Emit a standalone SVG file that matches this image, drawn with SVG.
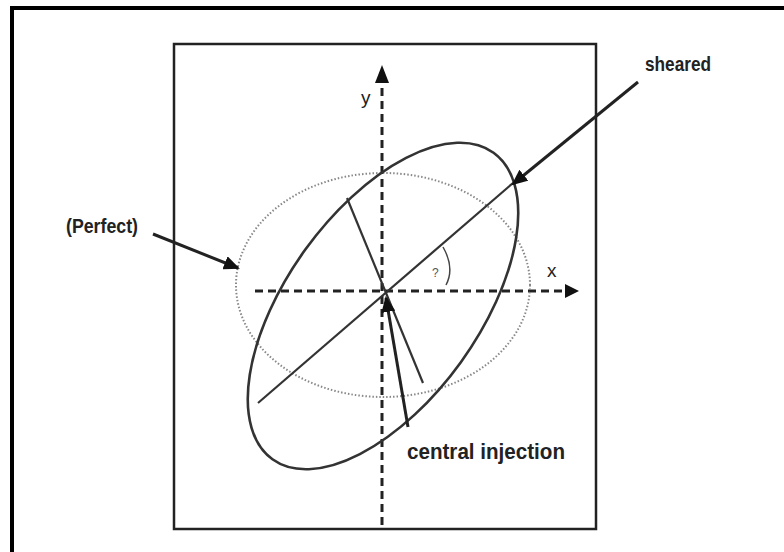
<svg xmlns="http://www.w3.org/2000/svg" width="784" height="552" viewBox="0 0 784 552">
<style>
.lbl{font-family:"Liberation Sans",Arial,sans-serif;font-weight:bold;fill:#222;}
.ax{font-family:"Liberation Sans",Arial,sans-serif;fill:#222;font-size:19px;}
.line{stroke:#333;stroke-width:2.2;fill:none;}
.dash{stroke:#222;stroke-width:3;stroke-dasharray:8 5;fill:none;}
.arr{stroke:#222;stroke-width:3;fill:none;}
</style>
<defs>
<marker id="ah2" markerWidth="16" markerHeight="14" refX="14" refY="7" orient="auto" markerUnits="userSpaceOnUse" viewBox="0 0 16 14">
<path d="M0,0 L16,7 L0,14 z" fill="#111"/>
</marker>
</defs>
<rect width="784" height="552" fill="#fff"/>
<g id="border">
<line x1="10" y1="8" x2="784" y2="8" stroke="#000" stroke-width="4"/>
<line x1="12" y1="6" x2="12" y2="552" stroke="#000" stroke-width="4"/>
</g>
<g id="frame"><rect x="174" y="44" width="422" height="485" fill="none" stroke="#222" stroke-width="2.5"/></g>
<g id="axes">
<line class="dash" x1="255" y1="291" x2="566" y2="291"/>
<path d="M565,284 L579,291 L565,298 z" fill="#111"/>
<line class="dash" x1="382" y1="525" x2="382" y2="80"/>
<path d="M375,83 L382,65 L389,83 z" fill="#111"/>
<text class="ax" x="547" y="277">x</text>
<text class="ax" x="361" y="104">y</text>
</g>
<g id="perfect"><ellipse cx="383" cy="285" rx="147" ry="112" fill="none" stroke="#888" stroke-width="2" stroke-dasharray="1.5 2"/></g>
<g id="sheared">
<ellipse cx="383" cy="306" rx="189" ry="96" transform="rotate(-54.2 383 306)" fill="none" stroke="#333" stroke-width="2.6"/>
<line class="line" x1="258" y1="403" x2="513" y2="183"/>
<line class="line" x1="347" y1="198" x2="423" y2="383"/>
<path d="M443,247 Q455,268 446,285" fill="none" stroke="#444" stroke-width="1.5"/>
<text x="432" y="277" font-family="Liberation Sans,Arial,sans-serif" font-size="12" fill="#555">?</text>
</g>
<g id="connectors">
<line class="arr" x1="638" y1="82" x2="513" y2="184" marker-end="url(#ah2)"/>
<line class="arr" x1="153" y1="234" x2="238" y2="268" marker-end="url(#ah2)"/>
<line class="arr" x1="408" y1="427" x2="386" y2="298" marker-end="url(#ah2)"/>
</g>
<g id="labels">
<text class="lbl" x="645" y="71" font-size="20" textLength="66" lengthAdjust="spacingAndGlyphs">sheared</text>
<text class="lbl" x="66" y="233" font-size="20" textLength="72" lengthAdjust="spacingAndGlyphs">(Perfect)</text>
<text class="lbl" x="407" y="459" font-size="22" textLength="158" lengthAdjust="spacingAndGlyphs">central injection</text>
</g>
</svg>
